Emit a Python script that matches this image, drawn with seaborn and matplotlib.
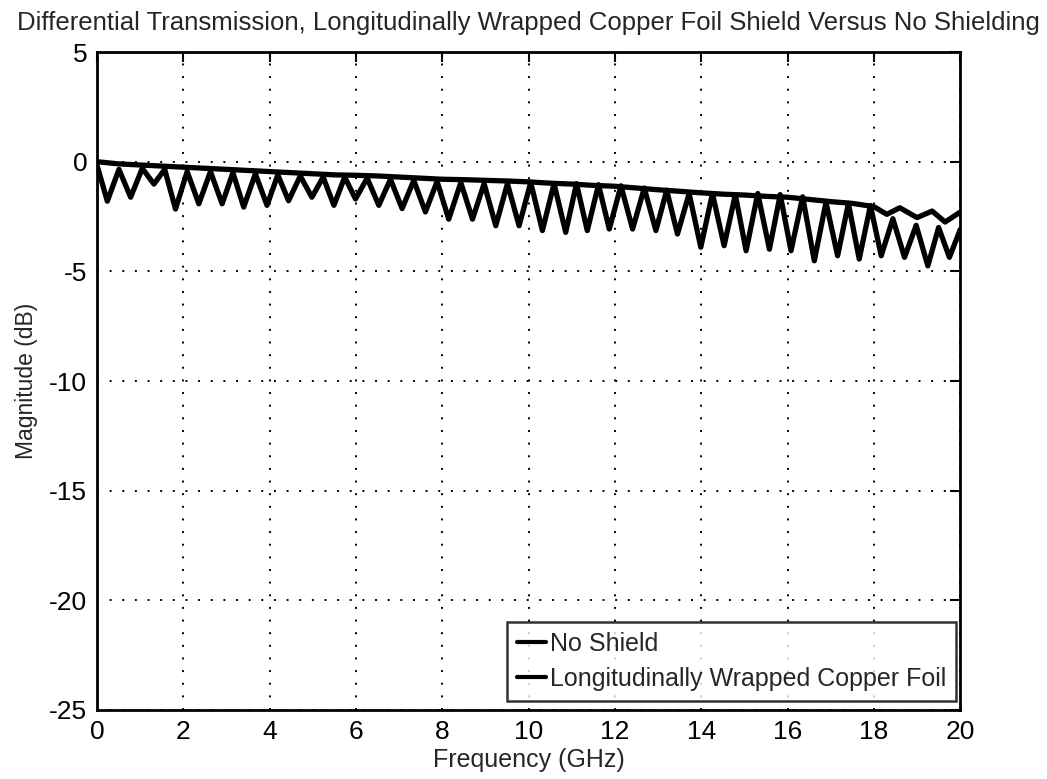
import matplotlib
matplotlib.use("Agg")
import matplotlib.pyplot as plt
import seaborn as sns
import pandas as pd

# Unshielded pair: insertion loss (dB) versus frequency (GHz)
no_shield_freq = [0.0, 0.5, 1.0, 1.5, 2.0, 2.5, 3.0, 3.5, 4.0, 4.5, 5.0, 5.5, 6.0,
                  6.5, 7.0, 7.5, 8.0, 8.5, 9.0, 9.5, 10.0, 10.5, 11.0, 11.5, 12.0,
                  12.5, 13.0, 13.5, 14.0, 14.5, 15.0, 15.5, 16.0, 16.5, 17.0, 17.5,
                  18.0, 18.3, 18.6, 19.0, 19.35, 19.65, 20.0]
no_shield_db = [0.0, -0.1, -0.15, -0.2, -0.25, -0.3, -0.35, -0.4, -0.45, -0.5, -0.55,
                -0.6, -0.62, -0.65, -0.7, -0.75, -0.8, -0.82, -0.85, -0.88, -0.92,
                -0.98, -1.02, -1.08, -1.12, -1.2, -1.28, -1.35, -1.42, -1.48, -1.52,
                -1.58, -1.62, -1.72, -1.82, -1.9, -2.05, -2.4, -2.1, -2.55, -2.25,
                -2.75, -2.3]

# Copper foil shield: resonance troughs and the crests between them
foil_peak_freq = [0.0, 0.51, 1.05, 1.57, 2.09, 2.63, 3.15, 3.67, 4.19, 4.71, 5.24,
                  5.74, 6.26, 6.8, 7.34, 7.88, 8.43, 8.97, 9.51, 10.05, 10.59, 11.11,
                  11.62, 12.14, 12.68, 13.2, 13.72, 14.26, 14.79, 15.31, 15.83, 16.35,
                  16.89, 17.41, 17.92, 18.44, 18.98, 19.5, 20.0]
foil_peak_db = [-0.15, -0.35, -0.3, -0.35, -0.45, -0.45, -0.5, -0.55, -0.6, -0.65,
                -0.7, -0.7, -0.75, -0.8, -0.85, -0.9, -0.95, -1.0, -1.0, -0.95, -1.0,
                -1.0, -1.05, -1.1, -1.2, -1.3, -1.45, -1.45, -1.5, -1.45, -1.5, -1.6,
                -1.85, -1.9, -2.0, -2.6, -2.9, -3.0, -3.1]
foil_trough_freq = [0.24, 0.78, 1.32, 1.82, 2.36, 2.9, 3.4, 3.94, 4.44, 4.98, 5.49,
                    5.99, 6.53, 7.07, 7.61, 8.15, 8.7, 9.24, 9.78, 10.32, 10.86, 11.36,
                    11.87, 12.41, 12.95, 13.45, 13.99, 14.53, 15.04, 15.58, 16.08,
                    16.62, 17.16, 17.66, 18.17, 18.71, 19.25, 19.75]
foil_trough_db = [-1.8, -1.62, -1.02, -2.16, -1.92, -1.92, -2.07, -1.99, -1.78, -1.62,
                  -1.99, -1.7, -1.99, -2.14, -2.29, -2.62, -2.62, -2.92, -2.92, -3.14,
                  -3.22, -3.14, -3.07, -3.07, -3.14, -3.3, -3.9, -3.83, -4.06, -3.99,
                  -4.06, -4.52, -4.29, -4.44, -4.29, -4.36, -4.75, -4.36]

legend_labels = ["No Shield", "Longitudinally Wrapped Copper Foil"]
x_ticks = [0, 2, 4, 6, 8, 10, 12, 14, 16, 18, 20]
y_ticks = [5, 0, -5, -10, -15, -20, -25]

# Crests and troughs alternate along frequency
foil_freq, foil_db = [], []
for i in range(len(foil_peak_freq)):
    foil_freq.append(foil_peak_freq[i])
    foil_db.append(foil_peak_db[i])
    if i < len(foil_trough_freq):
        foil_freq.append(foil_trough_freq[i])
        foil_db.append(foil_trough_db[i])

df = pd.concat([
    pd.DataFrame({"f": no_shield_freq, "db": no_shield_db, "series": legend_labels[0]}),
    pd.DataFrame({"f": foil_freq, "db": foil_db, "series": legend_labels[1]}),
], ignore_index=True)

sns.set_style("white")
plt.rcParams["font.family"] = ["Liberation Sans", "DejaVu Sans"]
plt.rcParams["axes.unicode_minus"] = False

fig = plt.figure(figsize=(10.47, 7.79), dpi=100)
ax = fig.add_axes([0.0926, 0.0886, 0.8245, 0.8446])

sns.lineplot(data=df, x="f", y="db", hue="series", hue_order=legend_labels,
             palette=["black", "black"], estimator=None, sort=False,
             linewidth=3.8, ax=ax)

ax.set_xlim(0, 20)
ax.set_ylim(-25, 5)
ax.set_xticks(x_ticks)
ax.set_yticks(y_ticks)
ax.tick_params(direction="in", length=7, width=1.5, top=True, right=True,
               labelsize=19, pad=7, colors="black")
ax.grid(True, color="black", linestyle=(0, (1, 5.5)), linewidth=1.4)
for sp in ax.spines.values():
    sp.set_color("black")
    sp.set_linewidth(2)
    sp.set_visible(True)

ax.set_title("Differential Transmission, Longitudinally Wrapped Copper Foil Shield Versus No Shielding",
             fontsize=18.5, pad=16)
ax.set_xlabel("Frequency (GHz)", fontsize=18, labelpad=3)
ax.set_ylabel("Magnitude (dB)", fontsize=16.5, labelpad=8)

leg = ax.legend(loc="lower right", bbox_to_anchor=(0.995, 0.014), fontsize=18,
                handlelength=1.15, handletextpad=0.15, borderpad=0.4,
                labelspacing=0.45, frameon=True, fancybox=False, borderaxespad=0)
leg.get_frame().set_edgecolor("black")
leg.get_frame().set_linewidth(1.8)
for h in leg.get_lines():
    h.set_linewidth(3)

fig.savefig("out.png", dpi=100, facecolor="white")
